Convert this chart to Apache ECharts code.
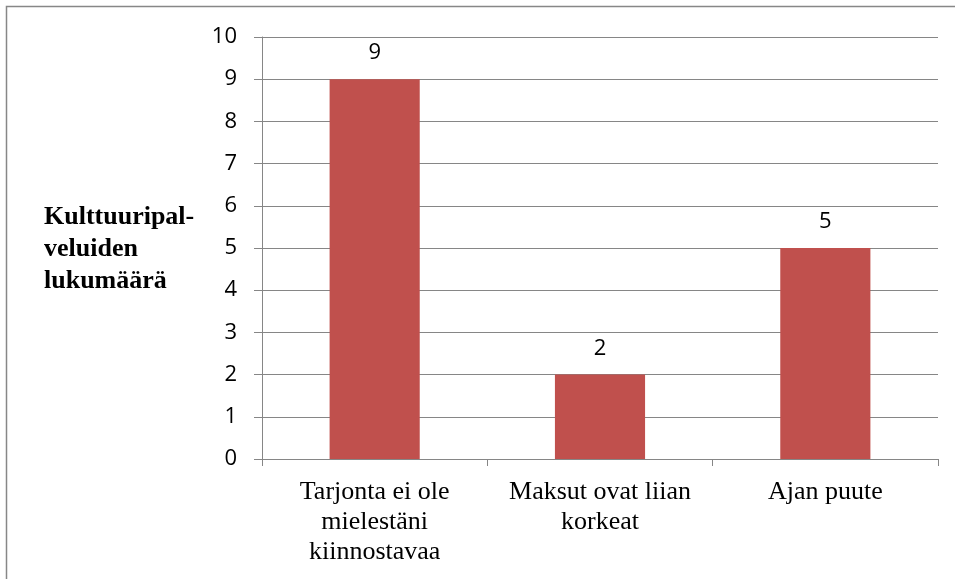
<!DOCTYPE html>
<html><head><meta charset="utf-8">
<script src="https://cdn.jsdelivr.net/npm/echarts@6/dist/echarts.min.js"></script>
<style>html,body{margin:0;padding:0;background:#fff}#c{width:955px;height:579px}</style>
</head><body><div id="c"></div>
<script>
var categories = ["Tarjonta ei ole\nmielestäni\nkiinnostavaa", "Maksut ovat liian\nkorkeat", "Ajan puute"];
var values = [9, 2, 5];
var yTitle = "Kulttuuripal-\nveluiden\nlukumäärä";
var chart = echarts.init(document.getElementById('c'));
chart.setOption({
  animation: false,
  backgroundColor: '#fff',
  grid: {left: 262, right: 17, top: 37, bottom: 120},
  graphic: [
    {type: 'rect', shape: {x: 6.5, y: 6.5, width: 1000, height: 1000}, style: {fill: 'none', stroke: '#878787', lineWidth: 1.5}},
    {type: 'text', left: 44, top: 201, style: {text: yTitle, font: 'bold 26px "Liberation Serif"', lineHeight: 32, fill: '#000'}}
  ],
  xAxis: {
    type: 'category', data: categories,
    axisLine: {lineStyle: {color: '#868686', width: 1}},
    axisTick: {show: true, length: 7, alignWithLabel: false, lineStyle: {color: '#868686'}},
    axisLabel: {color: '#000', fontFamily: 'Liberation Serif', fontSize: 26, lineHeight: 30, margin: 18, interval: 0}
  },
  yAxis: {
    type: 'value', min: 0, max: 10, interval: 1,
    axisLine: {show: true, lineStyle: {color: '#868686'}},
    axisTick: {show: true, length: 8, lineStyle: {color: '#868686'}},
    splitLine: {lineStyle: {color: '#868686', width: 1}},
    axisLabel: {color: '#000', fontFamily: 'Open Sans', fontSize: 22, margin: 25}
  },
  series: [{
    type: 'bar', data: values, barWidth: '40%',
    itemStyle: {color: '#C0504D'},
    label: {show: true, position: 'top', distance: 15, color: '#000', fontFamily: 'Open Sans', fontSize: 22}
  }]
});
</script></body></html>
